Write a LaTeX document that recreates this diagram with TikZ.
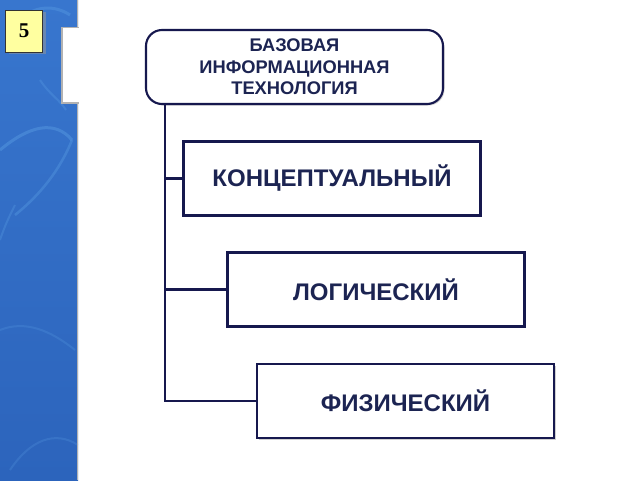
\documentclass[tikz,border=0pt]{standalone}
\usepackage{fontspec}
\setmainfont{Liberation Sans}
\usetikzlibrary{shadows}
\definecolor{navy}{RGB}{22,24,78}
\definecolor{txt}{RGB}{28,36,82}
\definecolor{bgblue}{RGB}{56,118,206}
\definecolor{bgdark}{RGB}{44,100,188}
\definecolor{streak}{RGB}{100,170,235}
\definecolor{pale}{RGB}{255,255,160}
\tikzset{
  box/.style={draw=navy, line width=2.1pt, fill=white, minimum width=297pt, minimum height=74pt,
    font=\fontsize{24}{27}\selectfont\bfseries, text=txt,
    drop shadow={shadow xshift=1.5pt, shadow yshift=-1.5pt, fill=black!30, opacity=0.6}},
  topbox/.style={box, rounded corners=16pt, align=center, font=\fontsize{18.3}{21.5}\selectfont\bfseries},
  link/.style={draw=navy, line width=2.1pt},
  numbox/.style={draw=black!80, line width=0.8pt, fill=pale, minimum width=37pt, minimum height=42pt,
    font=\fontsize{21}{23}\selectfont\bfseries, text=black,
    drop shadow={shadow xshift=3pt, shadow yshift=-2pt, fill=black!40, opacity=0.5}}
}
\begin{document}
\begin{tikzpicture}[x=1pt,y=-1pt]
\useasboundingbox (0,0) rectangle (640,480);
\fill[white] (0,0) rectangle (640,480);
% blue strip
\shade[top color=bgblue, bottom color=bgdark] (0,0) rectangle (78,480);
\draw[streak, line width=3pt, opacity=0.35] (0,150) .. controls (30,125) and (55,120) .. (72,140);
\draw[streak, line width=2.5pt, opacity=0.3] (72,140) .. controls (60,170) and (40,195) .. (15,215);
\draw[streak, line width=2pt, opacity=0.25] (0,240) .. controls (5,225) and (10,215) .. (15,205);
\draw[streak, line width=3pt, opacity=0.3] (20,20) .. controls (35,5) and (55,5) .. (70,15);
\draw[streak, line width=2pt, opacity=0.25] (40,80) .. controls (50,95) and (60,100) .. (66,110);
\draw[streak, line width=2pt, opacity=0.2] (0,330) .. controls (25,320) and (50,330) .. (75,350);
\draw[streak, line width=2pt, opacity=0.2] (10,470) .. controls (30,440) and (55,430) .. (78,445);
\draw[black!30, line width=1pt] (77.5,0) -- (77.5,480);
% notch
\fill[black!30] (61,27) rectangle (79,104);
\fill[white] (63,28) rectangle (79,102);
% number box
\node[numbox] (num) at (24,31) {\setmainfont{Liberation Serif}\bfseries 5};
% diagram
\node[topbox] (top) at (294.5,67) {БАЗОВАЯ\\ИНФОРМАЦИОННАЯ\\ТЕХНОЛОГИЯ};
\node[box] (b1) at (332,178.5) {КОНЦЕПТУАЛЬНЫЙ};
\node[box] (b2) at (376,289.5) {ЛОГИЧЕСКИЙ};
\node[box] (b3) at (405.5,401) {ФИЗИЧЕСКИЙ};
\coordinate (bj) at (165,0 |- b3.west);
\draw[link] (165,0 |- top.south) -- (bj) -- (b3.west);
\draw[link] (165,0 |- b1.west) -- (b1.west);
\draw[link] (165,0 |- b2.west) -- (b2.west);
\end{tikzpicture}
\end{document}
